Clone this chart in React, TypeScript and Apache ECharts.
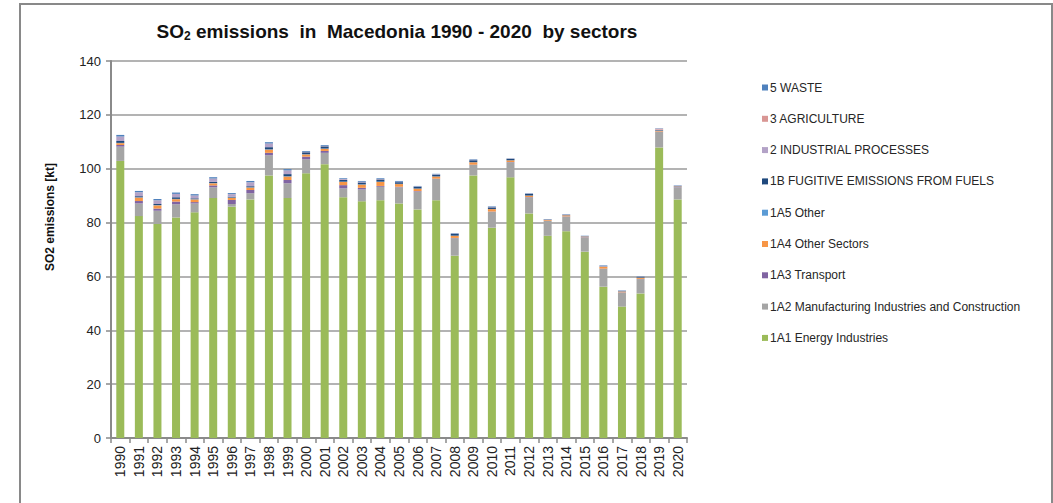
import React, { useEffect, useRef } from "react";
import * as echarts from "echarts";

const years = ["1990","1991","1992","1993","1994","1995","1996","1997","1998","1999","2000","2001","2002","2003","2004","2005","2006","2007","2008","2009","2010","2011","2012","2013","2014","2015","2016","2017","2018","2019","2020"];

const energyIndustries = [102.9,82.4,79.5,81.9,83.8,89.1,85.9,88.6,97.5,89.1,98.3,101.7,89.4,87.9,88.3,87.1,84.9,88.3,67.7,97.5,78.1,96.8,83.4,75.1,76.8,69.2,56.2,48.8,53.7,107.9,88.6];
const manufacturing = [5.3,4.7,4.9,4.9,3.3,4.0,1.0,2.3,7.5,5.5,5.2,4.2,3.3,4.4,5.0,6.0,6.6,7.9,6.5,3.9,5.9,5.6,6.0,5.5,5.4,5.3,6.6,5.2,5.3,5.8,4.5];
const transport = [0.6,0.9,0.8,1.0,0.5,0.7,1.5,1.2,0.9,1.2,1.0,0.7,1.2,0.6,0.3,0.2,0.2,0.1,0.1,0.1,0.1,0.1,0.1,0.1,0.1,0.1,0.1,0.1,0.1,0.1,0.1];
const otherSectors = [0.7,1.3,1.2,0.9,1.0,0.8,0.8,0.9,1.2,1.3,0.8,0.8,1.2,1.2,1.5,1.0,0.9,0.8,0.8,0.9,0.9,0.6,0.5,0.3,0.4,0.2,0.7,0.3,0.4,0.3,0.2];
const other1A5 = [0.1,0.1,0.1,0.1,0.1,0.1,0.1,0.1,0.1,0.1,0.1,0.1,0.1,0.1,0.1,0.1,0.05,0.05,0.05,0.05,0.05,0.05,0.05,0.05,0.05,0.05,0.05,0.05,0.05,0.05,0.05];
const fugitive = [0.7,0.4,0.4,0.6,0.3,0.4,0.3,0.4,0.8,0.8,0.7,0.8,0.6,0.7,0.8,0.6,0.6,0.6,0.6,0.7,0.6,0.5,0.6,0.1,0.1,0.1,0.1,0.1,0.2,0.2,0.1];
const industrial = [1.6,1.4,1.3,1.2,1.0,1.2,0.9,1.4,1.3,1.3,0.1,0.1,0.3,0.2,0.1,0.1,0.1,0.1,0.1,0.1,0.1,0.05,0.05,0.05,0.1,0.05,0.15,0.1,0.1,0.2,0.1];
const agriculture = [0.05,0.05,0.05,0.05,0.05,0.05,0.05,0.05,0.05,0.05,0.05,0.05,0.05,0.05,0.05,0.05,0.05,0.05,0.05,0.05,0.05,0.05,0.05,0.02,0.02,0.02,0.02,0.02,0.02,0.3,0.02];
const waste = [0.6,0.5,0.5,0.5,0.5,0.5,0.4,0.5,0.5,0.5,0.3,0.3,0.3,0.3,0.3,0.3,0.2,0.2,0.2,0.2,0.2,0.1,0.15,0.1,0.15,0.1,0.2,0.15,0.15,0.15,0.15];

const seriesNames = [
  "1A1 Energy Industries",
  "1A2 Manufacturing Industries and Construction",
  "1A3 Transport",
  "1A4 Other Sectors",
  "1A5 Other",
  "1B FUGITIVE EMISSIONS FROM FUELS",
  "2 INDUSTRIAL PROCESSES",
  "3 AGRICULTURE",
  "5 WASTE",
];
const seriesData = [energyIndustries, manufacturing, transport, otherSectors, other1A5, fugitive, industrial, agriculture, waste];
const seriesColors = ["#9BBB59", "#A5A5A5", "#8064A2", "#F79646", "#5B9BD5", "#1F497D", "#B3A2C7", "#D99694", "#4F81BD"];

export default function App() {
  const ref = useRef<HTMLDivElement>(null);
  useEffect(() => {
    if (!ref.current) return;
    const chart = echarts.init(ref.current, null, { renderer: "svg" });
    const font = "'Liberation Sans', Arial, sans-serif";
    chart.setOption({
      animation: false,
      backgroundColor: "#ffffff",
      textStyle: { fontFamily: font },
      grid: { left: 111, right: 366, top: 61, bottom: 65, containLabel: false },
      legend: {
        orient: "vertical",
        left: 757,
        top: 76,
        itemWidth: 6,
        itemHeight: 6,
        itemGap: 18.3,
        icon: "rect",
        data: [...seriesNames].reverse(),
        textStyle: { fontSize: 12, color: "#262626", fontFamily: font, lineHeight: 13, padding: [0, 0, 0, -3] },
        selectedMode: false,
      },
      xAxis: {
        type: "category",
        data: years,
        boundaryGap: true,
        axisLine: { lineStyle: { color: "#8a8a8a", width: 2 } },
        axisTick: { show: true, alignWithLabel: false, length: 5, lineStyle: { color: "#8a8a8a", width: 1.5 } },
        axisLabel: { rotate: 90, fontSize: 14, color: "#222", margin: 8, fontFamily: font, interval: 0 },
      },
      yAxis: {
        type: "value",
        min: 0,
        max: 140,
        interval: 20,
        axisLine: { show: true, lineStyle: { color: "#8a8a8a", width: 2 } },
        axisTick: { show: true, length: 5, lineStyle: { color: "#8a8a8a", width: 1.5 } },
        axisLabel: { fontSize: 13, color: "#222", margin: 10, fontFamily: font },
        splitLine: { lineStyle: { color: "#9a9a9a", width: 1.5 } },
      },
      series: seriesNames.map((name, i) => ({
        name,
        type: "bar",
        stack: "total",
        barWidth: 8,
        data: seriesData[i],
        itemStyle: { color: seriesColors[i] },
      })),
      graphic: [
        {
          type: "rect",
          shape: { x: 20, y: 4, width: 1032, height: 520 },
          style: { fill: "none", stroke: "#898989", lineWidth: 2 },
          silent: true,
          z: 100,
        },
        {
          type: "text",
          x: 397,
          y: 31,
          style: {
            text: "{a|SO}{s|2}{a| emissions  in  Macedonia 1990 - 2020  by sectors}",
            align: "center",
            verticalAlign: "middle",
            rich: {
              a: { fontSize: 19, fontWeight: "bold", fontFamily: font, fill: "#111", color: "#111" },
              s: { fontSize: 12, fontWeight: "bold", fontFamily: font, fill: "#111", color: "#111", padding: [10, 0, 0, 0] },
            },
          },
        },
        {
          type: "text",
          x: 50,
          y: 217,
          rotation: Math.PI / 2,
          style: {
            text: "SO2 emissions [kt]",
            align: "center",
            verticalAlign: "middle",
            fontSize: 12,
            fontWeight: "bold",
            fontFamily: font,
            fill: "#111",
          },
        },
      ],
    });
    return () => chart.dispose();
  }, []);
  return <div ref={ref} style={{ position: "fixed", left: 0, top: 0, width: 1053, height: 503 }} />;
}
